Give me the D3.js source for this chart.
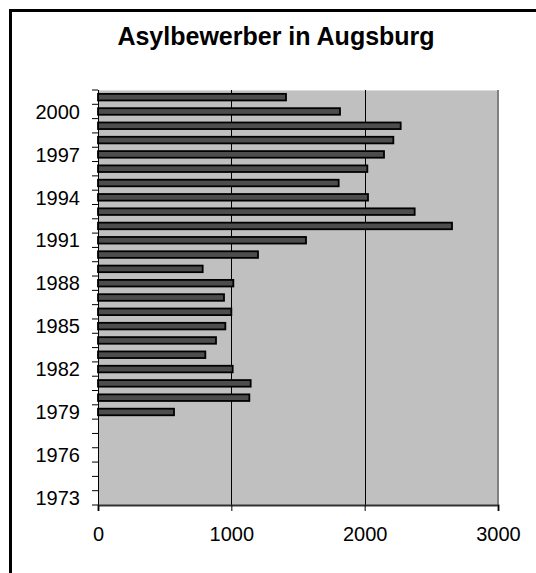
<!DOCTYPE html>
<html>
<head>
<meta charset="utf-8">
<script src="https://cdn.jsdelivr.net/npm/d3@7"></script>
<style>
body{margin:0;background:#fff;}
svg{display:block;font-family:Arial,"Liberation Sans",sans-serif;}
</style>
</head>
<body>
<div id="chart"></div>
<script>
const w = 536;
const h = 573;

//Data
const years = [1973,1974,1975,1976,1977,1978,1979,1980,1981,1982,1983,1984,1985,1986,1987,
  1988,1989,1990,1991,1992,1993,1994,1995,1996,1997,1998,1999,2000,2001];
const applicants = [null,null,null,null,null,null,570,1135,1145,1010,805,885,955,1000,945,
  1015,785,1200,1560,2655,2375,2025,1805,2020,2145,2215,2270,1815,1410];
const yearLabels = [1973,1976,1979,1982,1985,1988,1991,1994,1997,2000];
const xTicks = [0,1000,2000,3000];
const title = "Asylbewerber in Augsburg";

//Plot area
const pLeft = 98, pRight = 498, pTop = 90, pBottom = 505;

const svg = d3.select("#chart")
.append('svg')
.attr('width',w)
.attr('height',h);

//Outer frame (runs off the right and bottom edge)
svg.append('rect')
.attr('x',10.5).attr('y',10.5)
.attr('width',w+50).attr('height',h+50)
.attr('fill','none').attr('stroke','#000').attr('stroke-width',3);

//Title
svg.append('text')
.attr('x',276).attr('y',45)
.attr('text-anchor','middle')
.attr('font-size',25).attr('font-weight','bold')
.text(title);

//Scales
const xScale = d3.scaleLinear().domain([0,3000]).range([pLeft,pRight]);
const yScale = d3.scaleBand().domain(years).range([pBottom,pTop]).padding(0);
const bw = yScale.bandwidth();

//Plot background
svg.append('rect')
.attr('x',pLeft).attr('y',pTop)
.attr('width',pRight-pLeft).attr('height',pBottom-pTop)
.attr('fill','#c0c0c0');
svg.append('line')
.attr('x1',pLeft).attr('x2',pRight).attr('y1',pTop+0.5).attr('y2',pTop+0.5)
.attr('stroke','#dcdcdc').attr('stroke-width',1);
svg.append('line')
.attr('x1',pRight).attr('x2',pRight).attr('y1',pTop).attr('y2',pBottom)
.attr('stroke','#808080').attr('stroke-width',2);

//Gridlines
svg.append('g')
.selectAll('line')
.data(xTicks.filter(d => d > 0 && d < 3000))
.enter()
.append('line')
.attr('x1',d => Math.round(xScale(d))+0.5).attr('x2',d => Math.round(xScale(d))+0.5)
.attr('y1',pTop).attr('y2',pBottom)
.attr('stroke','#000').attr('stroke-width',1);

//Bars
svg.append('g')
.selectAll('rect')
.data(years.filter((d,i) => applicants[i] != null))
.enter()
.append('rect')
.attr('x',xScale(0))
.attr('y',d => yScale(d) + bw*0.27)
.attr('width',d => xScale(applicants[years.indexOf(d)]) - xScale(0))
.attr('height',bw*0.46)
.attr('fill','#4d4d4d')
.attr('stroke','#000')
.attr('stroke-width',1.8);

//Y axis: ticks on band edges, labels in band centres
const yAxis = svg.append('g');
const edges = years.map(d => yScale(d)).concat([yScale(years[0]) + bw]);
yAxis.selectAll('.ytick')
.data(edges)
.enter()
.append('line')
.attr('x1',pLeft-6).attr('x2',pLeft)
.attr('y1',d => d).attr('y2',d => d)
.attr('stroke','#000').attr('stroke-width',1);
yAxis.selectAll('text')
.data(yearLabels)
.enter()
.append('text')
.attr('x',80)
.attr('y',d => yScale(d) + bw/2)
.attr('dy','0.36em')
.attr('text-anchor','end')
.attr('font-size',20)
.text(d => d);
yAxis.append('line')
.attr('x1',pLeft+0.5).attr('x2',pLeft+0.5).attr('y1',pTop).attr('y2',pBottom+6)
.attr('stroke','#000').attr('stroke-width',1);

//X axis
const xAxis = d3.axisBottom(xScale).tickValues(xTicks).tickSize(6).tickPadding(16).tickFormat(d3.format('d'));
const gx = svg.append('g')
.attr('transform',`translate(0,${pBottom})`)
.call(xAxis);
gx.select('.domain').attr('stroke','#333').attr('stroke-width',2);
gx.selectAll('.tick line').attr('stroke','#000');
gx.selectAll('.tick text').attr('font-size',20).attr('font-family','Arial,"Liberation Sans",sans-serif').attr('fill','#000');
</script>
</body>
</html>
